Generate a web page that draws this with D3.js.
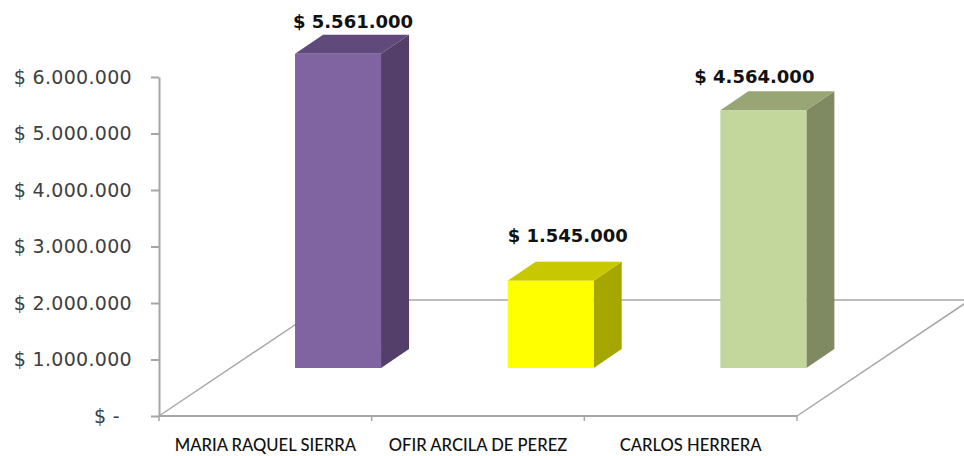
<!DOCTYPE html>
<html>
<head>
<meta charset="utf-8">
<script src="https://cdn.jsdelivr.net/npm/d3@7"></script>
<style>
  body { margin: 0; background: #fff; }
  svg { display: block; }
  text { font-family: "DejaVu Sans", sans-serif; }
</style>
</head>
<body>
<div id="graph"></div>
<script>
/* data */
var categories = ["MARIA RAQUEL SIERRA", "OFIR ARCILA DE PEREZ", "CARLOS HERRERA"];
var values = [5561000, 1545000, 4564000];
var valueLabels = ["$ 5.561.000", "$ 1.545.000", "$ 4.564.000"];
var tickValues = [0, 1000000, 2000000, 3000000, 4000000, 5000000, 6000000];
var tickLabels = ["$ -", "$ 1.000.000", "$ 2.000.000", "$ 3.000.000", "$ 4.000.000", "$ 5.000.000", "$ 6.000.000"];

// front, side, top of each bar
var barColors = [
  ["#8064a2", "#533f69", "#604a7b"],
  ["#ffff00", "#a6a600", "#c8c800"],
  ["#c3d69b", "#7f8a62", "#98a675"]
];

var width = 964;
var height = 456;
var axisColor = "#a6a6a6";

// the floor goes back this far on screen, bars stand partway in
var floorDx = 173, floorDy = 116;
var standDx = 72.7, standDy = 48;
var barWidth = 86, barDx = 28, barDy = 19;

// labels were moved by hand in the original
var labelShift = [[15, -26], [17, -39], [-9, -27]];

var svg = d3.select("#graph")
            .append("svg")
            .attr("width", width)
            .attr("height", height);

var y = d3.scaleLinear().domain([0, 6000000]).range([416, 77]);
var x = d3.scaleBand().domain(categories).range([159, 797]);

// floor
var y0 = y(0);
var floor = svg.append("g")
               .attr("fill", "none")
               .attr("stroke", axisColor)
               .attr("stroke-width", 1.5);
floor.append("line")
     .attr("x1", 159).attr("y1", y0)
     .attr("x2", 159 + floorDx).attr("y2", y0 - floorDy);
floor.append("line")
     .attr("x1", 159 + floorDx).attr("y1", y0 - floorDy)
     .attr("x2", width).attr("y2", y0 - floorDy);
floor.append("line")
     .attr("x1", 797).attr("y1", y0)
     .attr("x2", 797 + floorDx).attr("y2", y0 - floorDy);

// value axis
var yAxis = d3.axisLeft(y)
              .tickValues(tickValues)
              .tickSize(8)
              .tickSizeOuter(0)
              .tickFormat(function(d, i) { return tickLabels[i]; });

var yG = svg.append("g").attr("transform", "translate(159,0)").call(yAxis);
yG.selectAll("line, path").attr("stroke", axisColor).attr("stroke-width", 2);
yG.selectAll("text")
  .attr("font-size", 19)
  .attr("fill", "#404040")
  .attr("x", -27)
  .style("font-family", "'DejaVu Sans', sans-serif")
  .style("letter-spacing", "0.3px");
yG.selectAll("text").filter(function(d) { return d === 0; }).attr("x", -39);

// category axis
var edges = [159].concat(categories.map(function(c) { return x(c) + x.bandwidth(); }));
var xG = svg.append("g");
xG.append("line")
  .attr("x1", 159).attr("x2", 797).attr("y1", y0).attr("y2", y0)
  .attr("stroke", axisColor).attr("stroke-width", 2);
xG.selectAll("line.tick")
  .data(edges)
  .enter()
  .append("line")
  .attr("class", "tick")
  .attr("x1", function(d) { return d; })
  .attr("x2", function(d) { return d; })
  .attr("y1", y0)
  .attr("y2", y0 + 5)
  .attr("stroke", axisColor)
  .attr("stroke-width", 1.5);
xG.selectAll("text")
  .data(categories)
  .enter()
  .append("text")
  .attr("x", function(d) { return x(d) + x.bandwidth() / 2; })
  .attr("y", 451)
  .attr("text-anchor", "middle")
  .attr("font-size", 16.6)
  .attr("fill", "#111")
  .style("font-family", "Lato, sans-serif")
  .style("font-weight", 500)
  .text(function(d) { return d; });

// bars
var bars = svg.selectAll("g.bar")
              .data(values)
              .enter()
              .append("g")
              .attr("class", "bar");

function left(i) { return x(categories[i]) + x.bandwidth() / 2 + standDx - barWidth / 2; }
function bottom() { return y0 - standDy; }
function top_(d) { return bottom() - (y0 - y(d)); }

bars.append("path")
    .attr("fill", function(d, i) { return barColors[i][1]; })
    .attr("d", function(d, i) {
      var r = left(i) + barWidth;
      return d3.line()([[r, top_(d)], [r + barDx, top_(d) - barDy], [r + barDx, bottom() - barDy], [r, bottom()]]) + "Z";
    });
bars.append("path")
    .attr("fill", function(d, i) { return barColors[i][2]; })
    .attr("d", function(d, i) {
      var l = left(i), t = top_(d);
      return d3.line()([[l, t], [l + barDx, t - barDy], [l + barWidth + barDx, t - barDy], [l + barWidth, t]]) + "Z";
    });
bars.append("rect")
    .attr("x", function(d, i) { return left(i); })
    .attr("y", function(d) { return top_(d); })
    .attr("width", barWidth)
    .attr("height", function(d) { return bottom() - top_(d); })
    .attr("fill", function(d, i) { return barColors[i][0]; });

bars.append("text")
    .attr("x", function(d, i) { return left(i) + barWidth / 2 + labelShift[i][0]; })
    .attr("y", function(d, i) { return top_(d) + labelShift[i][1]; })
    .attr("text-anchor", "middle")
    .attr("font-size", 18)
    .attr("font-weight", "bold")
    .attr("fill", "#111")
    .text(function(d, i) { return valueLabels[i]; });
</script>
</body>
</html>
